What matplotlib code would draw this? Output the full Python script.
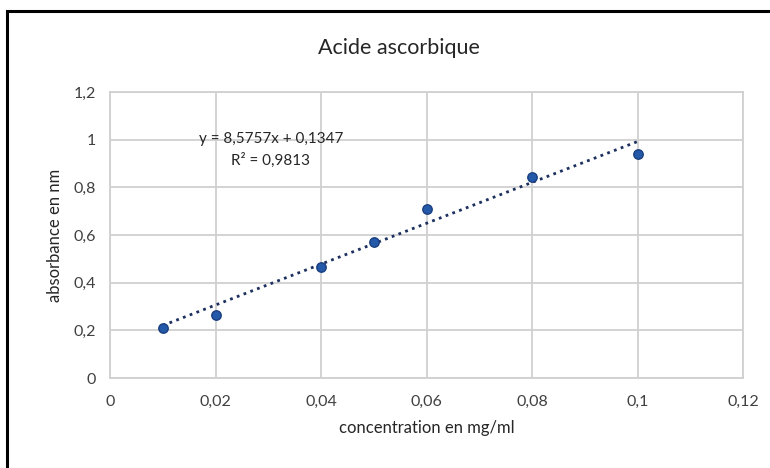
import numpy as np
import matplotlib.pyplot as plt
from matplotlib.patches import Rectangle

# data
concentration = [0.01, 0.02, 0.04, 0.05, 0.06, 0.08, 0.1]
absorbance = [0.21, 0.265, 0.467, 0.571, 0.709, 0.845, 0.939]

# linear trendline as given on the chart
slope = 8.5757
intercept = 0.1347
r2 = 0.9813

x_ticks = [0, 0.02, 0.04, 0.06, 0.08, 0.1, 0.12]
y_ticks = [0, 0.2, 0.4, 0.6, 0.8, 1.0, 1.2]

plt.rcParams['font.family'] = ['Lato', 'DejaVu Sans']

fig = plt.figure(figsize=(7.7, 4.68), dpi=100)
ax = fig.add_axes([0.1429, 0.1923, 0.8221, 0.6111])

grid_col = '#d0d0d0'

# trendline
xt = np.array([min(concentration), max(concentration)])
ax.plot(xt, slope * xt + intercept, linestyle=(0, (1, 1.6)), color='#1c2f5e',
        linewidth=2.0, zorder=2)

ax.scatter(concentration, absorbance, s=46, color='#2458a8', edgecolor='#1a3f80',
           linewidth=1.0, zorder=3)

ax.set_xlim(0, 0.12)
ax.set_ylim(0, 1.2)
ax.set_xticks(x_ticks)
ax.set_yticks(y_ticks)

def fr(v):
    s = ('%.2f' % v).rstrip('0').rstrip('.')
    return s.replace('.', ',')

ax.set_xticklabels([fr(v) for v in x_ticks], fontsize=11.5, color='#404040')
ax.set_yticklabels([fr(v) for v in y_ticks], fontsize=11.5, color='#404040')
ax.tick_params(length=0, pad=12)
ax.tick_params(axis='y', pad=10)

ax.grid(True, color=grid_col, linewidth=1.3)
ax.set_axisbelow(True)
for sp in ax.spines.values():
    sp.set_color(grid_col)
    sp.set_linewidth(1.3)

ax.set_xlabel('concentration en mg/ml', fontsize=12, color='#262626', labelpad=8)
ax.set_ylabel('absorbance en nm', fontsize=12, color='#262626', labelpad=8)

fig.text(0.518, 0.898, 'Acide ascorbique', ha='center', va='center',
         fontsize=15.5, color='#262626')

eq = 'y = %sx + %s\nR² = %s' % (str(slope).replace('.', ','),
                                str(intercept).replace('.', ','),
                                str(r2).replace('.', ','))
ax.text(0.0305, 0.957, eq, ha='center', va='center', fontsize=11,
        color='#262626', linespacing=1.55, transform=ax.transData)

# outer frame of the chart
fig.patches.append(Rectangle((0.009, -0.05), 1.2, 1.026, transform=fig.transFigure,
                             fill=False, edgecolor='black', linewidth=2.2))

fig.savefig('out.png', dpi=100)
